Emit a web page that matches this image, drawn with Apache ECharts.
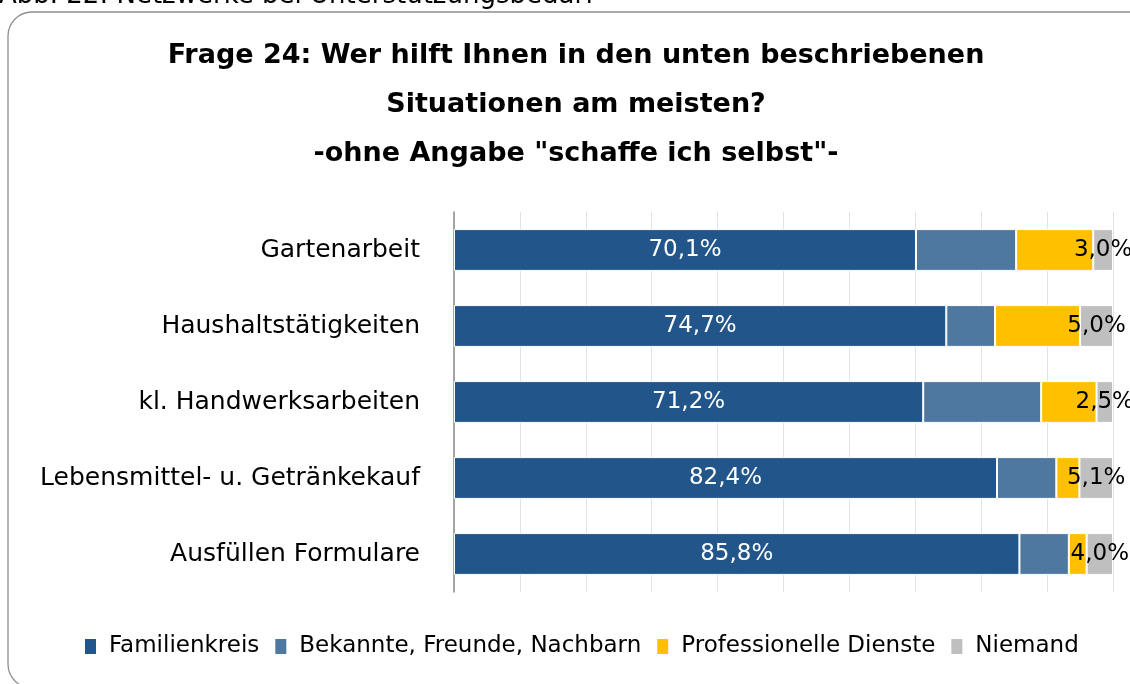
<!DOCTYPE html>
<html>
<head>
<meta charset="utf-8">
<script src="https://cdn.jsdelivr.net/npm/echarts@6/dist/echarts.min.js"></script>
<style>
  html, body { margin: 0; padding: 0; background: #fff; }
  #chart { width: 1130px; height: 684px; }
</style>
</head>
<body>
<div id="chart"></div>
<script>
  // Kategorien von oben nach unten
  const categories = ['Gartenarbeit', 'Haushaltstätigkeiten', 'kl. Handwerksarbeiten', 'Lebensmittel- u. Getränkekauf', 'Ausfüllen Formulare']
  const familienkreis = [70.1, 74.7, 71.2, 82.4, 85.8]
  const bekannte = [15.2, 7.4, 17.9, 9.0, 7.5]
  const professionelle = [11.7, 12.9, 8.4, 3.5, 2.7]
  const niemand = [3.0, 5.0, 2.5, 5.1, 4.0]
  const seriesNames = ['Familienkreis', 'Bekannte, Freunde, Nachbarn', 'Professionelle Dienste', 'Niemand']
  const colors = ['#22568A', '#4E78A0', '#FFC000', '#BFBFBF']

  const font = 'DejaVu Sans'
  const fmt = (p) => p.value.toFixed(1).replace('.', ',') + '%'

  const chart = echarts.init(document.getElementById('chart'))

  const mkSeries = (name, data, color, label) => ({
    name: name,
    type: 'bar',
    stack: 'total',
    data: data,
    barWidth: '55%',
    itemStyle: { color: color, borderColor: '#fff', borderWidth: 1 },
    label: label,
    emphasis: { disabled: true }
  })

  const option = {
    animation: false,
    color: colors,
    graphic: [
      {
        type: 'text', left: -1, top: -17,
        style: { text: 'Abb. 22: Netzwerke bei Unterstützungsbedarf', font: '26px "' + font + '"', fill: '#000' }
      },
      {
        type: 'rect', shape: { x: 8, y: 12, width: 1150, height: 676, r: 24 },
        style: { fill: 'none', stroke: '#8f8f8f', lineWidth: 1.3 }, z: -1
      },
      {
        type: 'text', x: 576, y: 31,
        style: {
          text: 'Frage 24: Wer hilft Ihnen in den unten beschriebenen\nSituationen am meisten?\n-ohne Angabe "schaffe ich selbst"-',
          font: 'bold 27px "' + font + '"', fill: '#000', align: 'center', lineHeight: 49
        }
      }
    ],
    grid: { left: 454, right: 17, top: 212, bottom: 92 },
    legend: {
      bottom: 21,
      left: 78,
      icon: 'rect',
      itemWidth: 13,
      itemHeight: 17,
      itemGap: 14,
      textStyle: { fontFamily: font, fontSize: 23, color: '#000', padding: [0, 0, 0, 7] },
      data: seriesNames
    },
    xAxis: {
      type: 'value',
      min: 0,
      max: 100,
      interval: 10,
      axisLabel: { show: false },
      axisLine: { show: false },
      axisTick: { show: false },
      splitLine: { show: true, lineStyle: { color: '#e3e3e3' } }
    },
    yAxis: {
      type: 'category',
      inverse: true,
      data: categories,
      axisTick: { show: false },
      axisLine: { show: true, lineStyle: { color: '#8c8c8c', width: 1.5 } },
      axisLabel: { fontFamily: font, fontSize: 25, color: '#000', margin: 34 }
    },
    series: [
      mkSeries(seriesNames[0], familienkreis, colors[0], { show: true, position: 'inside', color: '#fff', fontFamily: font, fontSize: 23, formatter: fmt }),
      mkSeries(seriesNames[1], bekannte, colors[1], { show: false }),
      mkSeries(seriesNames[2], professionelle, colors[2], { show: false }),
      mkSeries(seriesNames[3], niemand, colors[3], { show: true, position: 'inside', color: '#000', fontFamily: font, fontSize: 23, formatter: fmt })
    ]
  }

  chart.setOption(option)
</script>
</body>
</html>
